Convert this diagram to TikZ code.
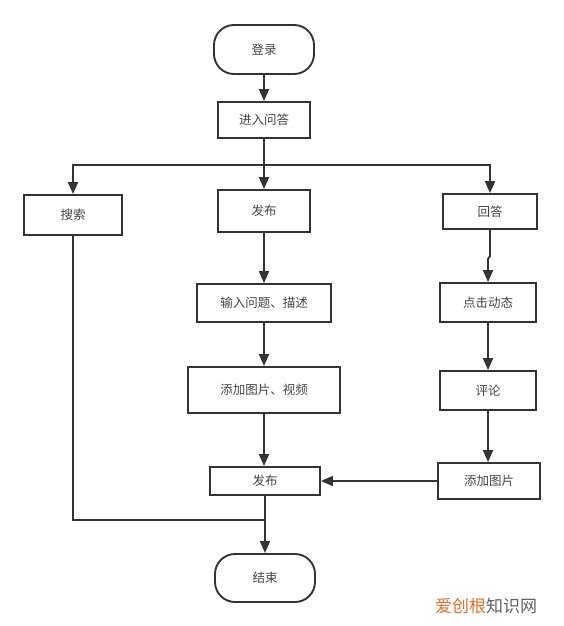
\documentclass[tikz,border=0pt]{standalone}
\usepackage{fontspec}
\setmainfont{Noto Sans CJK SC}
\usetikzlibrary{arrows.meta,positioning}
\definecolor{ln}{HTML}{333333}
\definecolor{tx}{HTML}{444444}
\definecolor{wmo}{HTML}{E0712C}
\definecolor{wmg}{HTML}{606060}
\begin{document}
\begin{tikzpicture}[x=1pt,y=-1pt,
  box/.style={draw=ln,line width=1.9pt,fill=white,inner sep=0pt,font=\fontsize{12.5}{14}\selectfont,text=tx},
  term/.style={box,rounded corners=20pt},
  conn/.style={draw=ln,line width=1.9pt},
  arr/.style={conn,-{Triangle[length=12pt,width=10pt]}}]
\useasboundingbox (0,0) rectangle (563,626);
\node[term,minimum width=100pt,minimum height=49pt] (login) at (264,49.5) {登录};
\node[box,minimum width=92pt,minimum height=36pt] (enter) at (264,120) {进入问答};
\node[box,minimum width=98pt,minimum height=40pt] (search) at (73,215) {搜索};
\node[box,minimum width=92pt,minimum height=42pt] (pub1) at (264,211) {发布};
\node[box,minimum width=94pt,minimum height=35pt] (answer) at (490,211.5) {回答};
\node[box,minimum width=134pt,minimum height=38pt] (input) at (264,303) {输入问题、描述};
\node[box,minimum width=152pt,minimum height=46pt] (addv) at (264,390) {添加图片、视频};
\node[box,minimum width=110pt,minimum height=28pt] (pub2) at (265,481) {发布};
\node[box,minimum width=96pt,minimum height=39pt] (click) at (488,302.5) {点击动态};
\node[box,minimum width=96pt,minimum height=39pt] (comment) at (488,390.5) {评论};
\node[box,minimum width=102pt,minimum height=36pt] (addp) at (489,481) {添加图片};
\node[term,minimum width=100pt,minimum height=48pt] (end) at (265,578) {结束};
\coordinate (j) at (264,165);
\coordinate (m) at (265,520);
\draw[arr] (login) -- (enter);
\draw[conn] (enter) -- (j);
\draw[arr] (j) -- (pub1);
\draw[arr] (j) -| (search);
\draw[arr] (j) -| (answer);
\draw[arr] (pub1) -- (input);
\draw[arr] (input) -- (addv);
\draw[arr] (addv.south) -- (addv.south |- pub2.north);
\draw[arr] (pub2) -- (end);
\draw[conn] (search.south) |- (m);
\draw[arr] (answer.south) -- ++(0,26) -- ++(-2,3) -- (click.north);
\draw[arr] (click) -- (comment);
\draw[arr] (comment.south) -- (comment.south |- addp.north);
\draw[arr] (addp) -- (pub2);
\node[font=\fontsize{17}{19}\selectfont,inner sep=0pt] (wm) at (486,606) {\textcolor{wmo}{爱创根}\textcolor{wmg}{知识网}};
\end{tikzpicture}
\end{document}
